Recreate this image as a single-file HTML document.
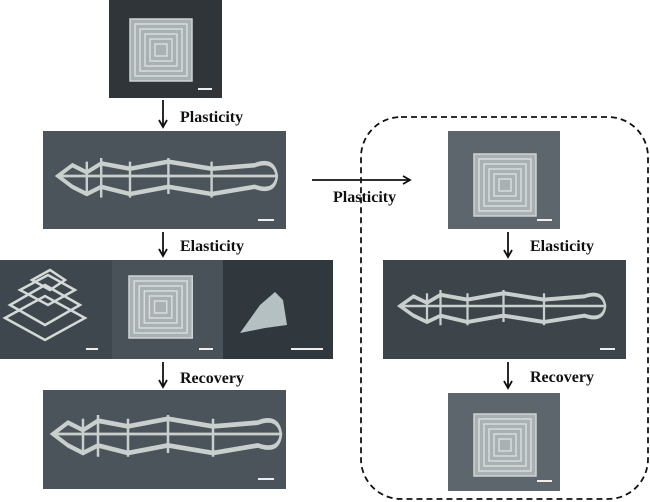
<!DOCTYPE html>
<html><head><meta charset="utf-8"><style>
html,body{margin:0;padding:0;background:#fff;width:650px;height:502px;overflow:hidden}
svg text{font-family:"Liberation Serif",serif;font-weight:bold;font-size:16px;fill:#111}
</style></head><body>
<svg width="650" height="502" viewBox="0 0 650 502" xmlns="http://www.w3.org/2000/svg">
<defs>
<marker id="ah" markerWidth="10" markerHeight="10" refX="8" refY="5" orient="auto" markerUnits="userSpaceOnUse">
<path d="M1,1 L8,5 L1,9" fill="none" stroke="#111" stroke-width="1.8"/>
</marker>
<g id="sq">
<rect x="0" y="0" width="62" height="62" fill="#a9b1b3" stroke="#cfd4d4" stroke-width="1.5"/>
<rect x="5" y="5" width="52" height="52" fill="none" stroke="#d8dcdc" stroke-width="1.5"/>
<rect x="10" y="10" width="42" height="42" fill="none" stroke="#d8dcdc" stroke-width="1.5"/>
<rect x="15" y="15" width="32" height="32" fill="none" stroke="#d8dcdc" stroke-width="1.5"/>
<rect x="20" y="20" width="22" height="22" fill="none" stroke="#d8dcdc" stroke-width="1.5"/>
<rect x="25" y="25" width="12" height="12" fill="none" stroke="#d8dcdc" stroke-width="1.5"/>
</g>
<g id="chain" fill="none" stroke="#c9cfcc" stroke-width="2.5">
<path d="M0,10 L15,4 L30,8 L45,3 L75,6 L115,2 L160,6 L205,4 Q225,0 228,10 Q226,20 205,16 L160,20 L115,16 L75,20 L45,16 L30,20 L15,16 Z"/>
<path d="M0,10 L228,10" stroke-width="1.5"/>
<path d="M30,2 L30,20 M45,0 L45,22 M75,2 L75,22 M115,0 L115,20 M160,2 L160,22"/>
</g>
</defs>

<rect x="109" y="0" width="113" height="98" fill="#30353a"/>
<use href="#sq" x="130" y="19"/>
<rect x="198" y="88" width="14" height="2" fill="#eee"/>

<line x1="163" y1="100" x2="163" y2="127" stroke="#111" stroke-width="1.8" marker-end="url(#ah)"/>
<text x="180" y="122">Plasticity</text>

<rect x="43" y="131" width="243" height="98" fill="#4b545b"/>
<g transform="translate(58,158) scale(0.96,1.8)"><use href="#chain"/></g>
<rect x="258" y="219" width="16" height="2" fill="#eee"/>

<line x1="163" y1="232" x2="163" y2="256" stroke="#111" stroke-width="1.8" marker-end="url(#ah)"/>
<text x="180" y="251">Elasticity</text>

<rect x="0" y="260" width="112" height="99" fill="#3e474e"/>
<g fill="none" stroke="#d5dad8" stroke-width="2.5">
<path d="M5,318 L45,296 L85,318 L45,340 Z"/>
<path d="M10,305 L45,285 L80,305 L45,325 Z"/>
<path d="M20,290 L48,275 L75,290 L48,305 Z"/>
<path d="M32,280 L50,270 L65,280 L50,290 Z"/>
</g>
<rect x="86" y="348" width="12" height="2" fill="#eee"/>
<rect x="112" y="260" width="111" height="99" fill="#4a5259"/>
<g transform="translate(129,276) scale(1.02,1.0)"><use href="#sq"/></g>
<rect x="199" y="348" width="14" height="2" fill="#eee"/>
<rect x="223" y="260" width="110" height="99" fill="#30373d"/>
<path d="M240,333 L260,305 L275,292 L283,300 L287,325 L265,328 Z" fill="#b5c0c3"/>
<rect x="291" y="348" width="32" height="2" fill="#eee"/>

<line x1="163" y1="362" x2="163" y2="387" stroke="#111" stroke-width="1.8" marker-end="url(#ah)"/>
<text x="180" y="383">Recovery</text>

<rect x="43" y="390" width="243" height="99" fill="#4b545b"/>
<g transform="translate(53,415) scale(1.0,1.9)"><use href="#chain"/></g>
<rect x="258" y="478" width="16" height="2" fill="#eee"/>

<line x1="312" y1="180" x2="410" y2="180" stroke="#111" stroke-width="1.8" marker-end="url(#ah)"/>
<text x="333" y="202">Plasticity</text>

<rect x="361" y="117" width="287" height="382" rx="40" ry="40" fill="none" stroke="#111" stroke-width="1.8" stroke-dasharray="6,4"/>

<rect x="448" y="131" width="112" height="98" fill="#5c666c"/>
<use href="#sq" x="474" y="154"/>
<rect x="537" y="219" width="15" height="2" fill="#eee"/>

<line x1="508" y1="232" x2="508" y2="257" stroke="#111" stroke-width="1.8" marker-end="url(#ah)"/>
<text x="530" y="251">Elasticity</text>

<rect x="383" y="260" width="243" height="99" fill="#3d454b"/>
<g transform="translate(400,290) scale(0.9,1.6)"><use href="#chain"/></g>
<rect x="600" y="348" width="15" height="2" fill="#eee"/>

<line x1="508" y1="362" x2="508" y2="388" stroke="#111" stroke-width="1.8" marker-end="url(#ah)"/>
<text x="530" y="382">Recovery</text>

<rect x="448" y="393" width="112" height="98" fill="#5c666c"/>
<use href="#sq" x="474" y="414"/>
<rect x="537" y="480" width="15" height="2" fill="#eee"/>
</svg>
</body></html>
